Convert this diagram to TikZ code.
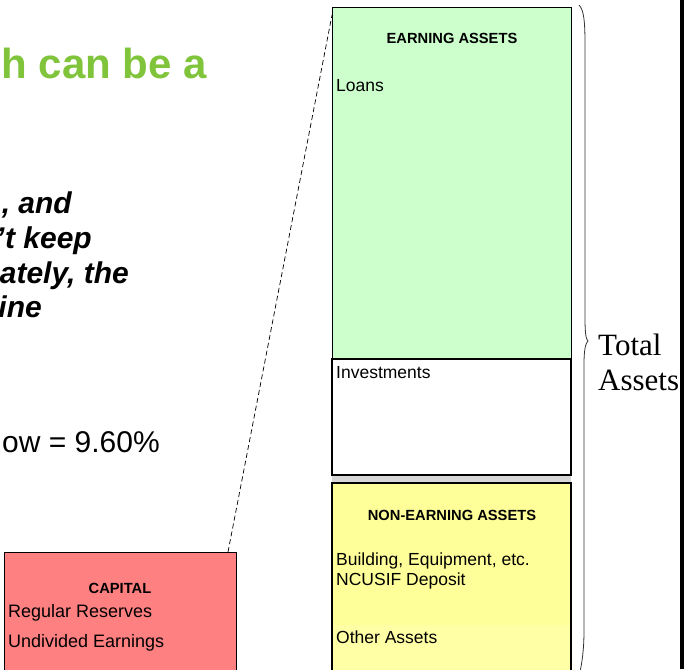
\documentclass[tikz,border=0pt]{standalone}
\usepackage{fontspec}
\setmainfont{Liberation Sans}
\newfontfamily\serifface{Liberation Serif}
\usetikzlibrary{calc}
\definecolor{titlegreen}{RGB}{128,196,60}
\definecolor{earnfill}{RGB}{204,255,204}
\definecolor{nonearnfill}{RGB}{255,255,153}
\definecolor{otherfill}{RGB}{255,255,165}
\definecolor{capfill}{RGB}{255,128,128}
\definecolor{bandgray}{RGB}{214,214,214}
\tikzset{
  panel/.style={draw=black, anchor=north west, inner sep=0pt, outer sep=0pt},
  txt/.style={inner sep=0pt, anchor=base west, font=\fontsize{17.5}{20}\selectfont},
  head/.style={inner sep=0pt, anchor=base, font=\fontsize{14.7}{17}\selectfont\bfseries},
  slide/.style={inner sep=0pt, anchor=base east, font=\fontsize{30}{35}\selectfont},
}
\begin{document}
\begin{tikzpicture}[x=1pt, y=-1pt]
\useasboundingbox (0,0) rectangle (684,669);
\clip (0,0) rectangle (684,669);
\fill[white] (0,0) rectangle (684,669);

% slide text on the left
\node[slide, text=titlegreen, font=\fontsize{42}{48}\selectfont\bfseries] (title) at (207,78) {h can be a};
\node[slide, font=\fontsize{30}{35}\selectfont\bfseries\itshape] (l1) at (72,213) {, and};
\node[slide, font=\fontsize{30}{35}\selectfont\bfseries\itshape] (l2) at (92,248) {'t keep};
\node[slide, font=\fontsize{30}{35}\selectfont\bfseries\itshape] (l3) at (129,283) {ately, the};
\node[slide, font=\fontsize{30}{35}\selectfont\bfseries\itshape] (l4) at (42,317) {ine};
\node[slide] (ratio) at (160,452) {ow = 9.60\%};

% asset column
\node[panel, fill=earnfill, line width=1pt, minimum width=239pt, minimum height=351pt] (earn) at (332,8) {};
\node[panel, fill=white, line width=1.6pt, minimum width=239pt, minimum height=116pt] (inv) at (332,359) {};
\node[panel, draw=none, fill=bandgray, minimum width=239pt, minimum height=8pt] (band) at (332,475) {};
\node[panel, fill=nonearnfill, line width=1.6pt, minimum width=239pt, minimum height=200pt] (nonearn) at (332,483) {};
\node[panel, draw=none, fill=otherfill, minimum width=237pt, minimum height=60pt] (other) at (333,625) {};
\draw[line width=1.6pt] (nonearn.north west) -- (nonearn.north east);
\draw[line width=1.6pt] (inv.south west) -- (inv.south east);
\draw[line width=1.6pt] (nonearn.north west) -- (nonearn.south west);
\draw[line width=1.6pt] (nonearn.north east) -- (nonearn.south east);

\node[head] (earnhead) at (452,44) {EARNING ASSETS};
\node[txt] (loans) at (336,91) {Loans};
\node[txt] (invtxt) at (336,378) {Investments};
\node[head] (nonhead) at (452,520) {NON-EARNING ASSETS};
\node[txt] (bldg) at (336,565) {Building, Equipment, etc.};
\node[txt] (ncusif) at (336,585) {NCUSIF Deposit};
\node[txt] (othertxt) at (336,643) {Other Assets};

% capital box
\node[panel, fill=capfill, line width=1pt, minimum width=232pt, minimum height=130pt] (cap) at (4,552) {};
\node[head] (caphead) at (120,593) {CAPITAL};
\node[txt, font=\fontsize{18}{20}\selectfont] (reserves) at (8,617) {Regular Reserves};
\node[txt, font=\fontsize{18}{20}\selectfont] (undiv) at (8,647) {Undivided Earnings};

% dashed link from capital to the asset column
\coordinate (capcorner) at ($(cap.north east)+(-8,0)$);
\coordinate (earncorner) at ($(earn.north west)+(0,7)$);
\draw[dashed, line width=0.7pt, dash pattern=on 5pt off 3pt] (capcorner) -- (earncorner);

% brace and label
\draw[line width=0.8pt, black!80] (579,5) .. controls (584,10) and (585,22) .. (585,45)
  -- (585,318) .. controls (585,334) and (586,339) .. (588,341)
  .. controls (586,343) and (584,348) .. (584,364)
  -- (584,630) .. controls (584,650) and (582,662) .. (580,672);
\node[txt, font=\serifface\fontsize{31}{35}\selectfont] (total) at (598,355) {Total};
\node[txt, font=\serifface\fontsize{31}{35}\selectfont] (assets) at (598,390) {Assets};

% right edge rule
\fill[black] (680,0) rectangle (684,669);
\end{tikzpicture}
\end{document}
